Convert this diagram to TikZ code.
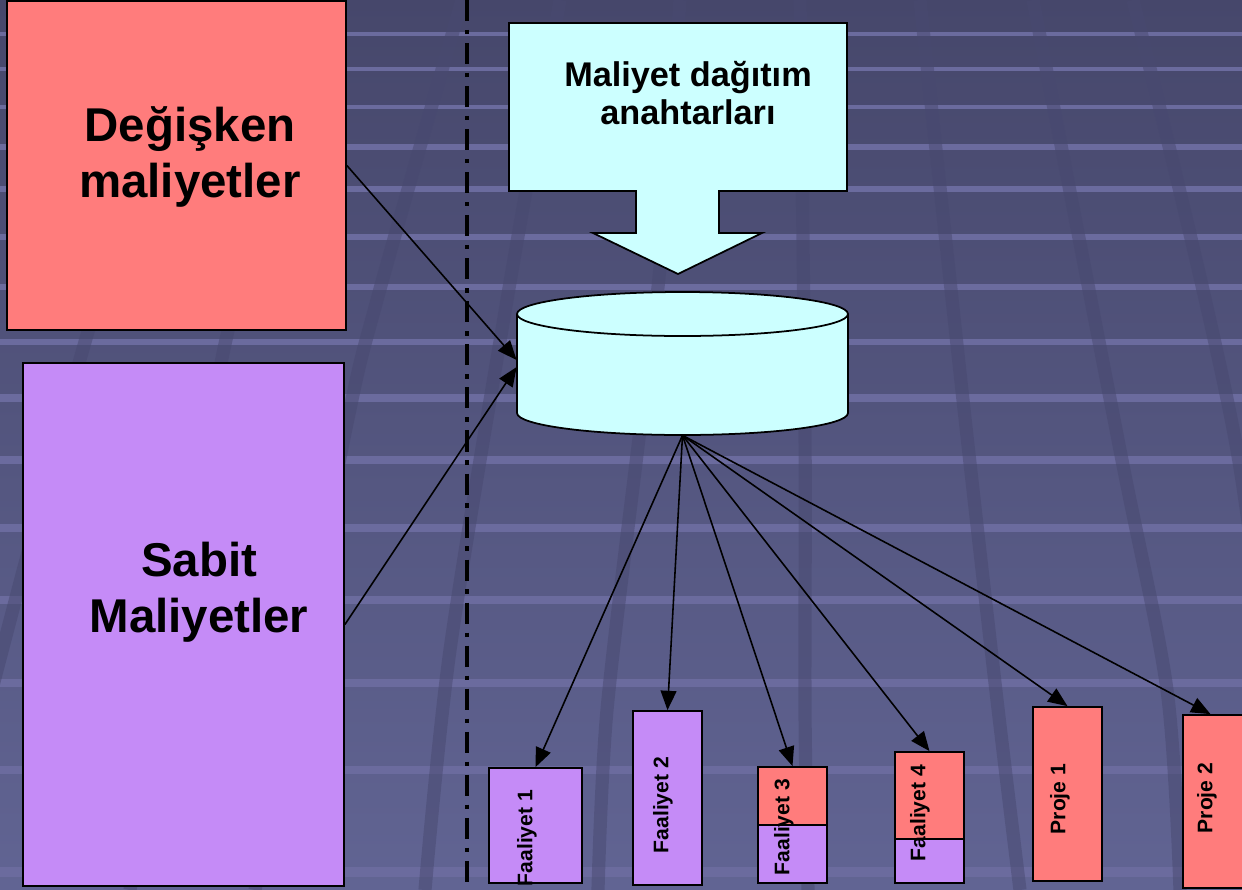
\documentclass[tikz,border=0pt]{standalone}
\usepackage{fontspec}
\setmainfont{Liberation Sans}
\usetikzlibrary{arrows.meta,calc}
\definecolor{bgtop}{HTML}{46476B}
\definecolor{bgbot}{HTML}{616493}
\definecolor{gridl}{HTML}{6B6B9E}
\definecolor{stripec}{HTML}{484970}
\definecolor{redf}{HTML}{FF7C7C}
\definecolor{purf}{HTML}{C58BF7}
\definecolor{cyanf}{HTML}{CCFFFF}
\begin{document}
\begin{tikzpicture}[x=0.02cm,y=-0.02cm,
  box/.style={draw=black, line width=1pt, inner sep=0pt},
  arr/.style={draw=black, line width=0.9pt, -{Triangle[length=11pt,width=9pt]}},
  bigtxt/.style={font=\fontsize{27}{32}\selectfont\bfseries, align=center},
  midtxt/.style={font=\fontsize{19.5}{22}\selectfont\bfseries, align=center},
  smalltxt/.style={font=\fontsize{12}{14}\selectfont\bfseries, rotate=90, inner sep=0pt},
  hline/.style={draw=gridl},
  stripeline/.style={draw=stripec, opacity=0.5, line width=7.5pt}
]
\useasboundingbox (0,0) rectangle (1242,890);
\begin{scope}
\clip (0,0) rectangle (1242,890);
% background
\shade[top color=bgtop, bottom color=bgbot] (0,0) rectangle (1242,890);
\foreach \yy/\ww in {34/2.4, 69/2.6, 107/2.8, 147/3.0, 189/3.2, 237/3.4, 287/3.6, 342/3.8, 398/4.0, 460/4.2, 528/4.4, 600/4.6, 683/4.8, 770/5.0, 872/5.2}
  \draw[hline, line width=\ww pt] (0,\yy) -- (1242,\yy);
\draw[stripeline] plot[smooth] coordinates {(200,0) (87,335) (-60,890)};
\draw[stripeline] plot[smooth] coordinates {(330,0) (227,335) (130,890)};
\draw[stripeline] plot[smooth] coordinates {(462,0) (377,300) (345,433) (255,890)};
\draw[stripeline] plot[smooth] coordinates {(560,0) (507,300) (450,650) (425,890)};
\draw[stripeline] plot[smooth] coordinates {(680,0) (660,267) (640,430) (607,710) (598,890)};
\draw[stripeline] plot[smooth] coordinates {(800,0) (805,430) (805,710) (808,890)};
\draw[stripeline] plot[smooth] coordinates {(920,0) (963,400) (997,700) (1020,890)};
\draw[stripeline] plot[smooth] coordinates {(1033,0) (1120,450) (1167,690) (1180,890)};
\draw[stripeline] plot[smooth] coordinates {(1133,0) (1237,450) (1290,890)};

% separator
\coordinate (sepT) at (467,0);
\coordinate (sepB) at (467,890);
\draw[line width=2pt, dash pattern=on 12pt off 5pt on 2.5pt off 5pt] (sepT) -- (sepB);

% left boxes
\node[box, fill=redf, minimum width={339*0.02cm}, minimum height={329*0.02cm}] (dm) at (176.5,165.5) {};
\node[bigtxt] (dmt) at (190,157) {Değişken\\maliyetler};
\node[box, fill=purf, minimum width={321*0.02cm}, minimum height={523*0.02cm}] (sm) at (183.5,624.5) {};
\node[bigtxt] (smt) at (199,592) {Sabit\\Maliyetler};

% callout
\draw[line width=1pt, fill=cyanf] (509,23) -- (847,23) -- (847,191) -- (719,191) -- (719,233) -- (762,233)
  -- (678,274) -- (593,233) -- (636,233) -- (636,191) -- (509,191) -- cycle;
\node[midtxt] (key) at (688,93) {Maliyet dağıtım\\anahtarları};

% cylinder
\filldraw[line width=1pt, fill=cyanf] (682.5,413) ellipse [x radius=165.5, y radius=22];
\fill[cyanf] (517,314) rectangle (848,413);
\draw[line width=1pt] (517,314) -- (517,413);
\draw[line width=1pt] (848,314) -- (848,413);
\filldraw[line width=1pt, fill=cyanf] (682.5,314) ellipse [x radius=165.5, y radius=22];
\node[inner sep=0pt, minimum width={331*0.02cm}, minimum height={143*0.02cm}] (cyl) at (682.5,363.5) {};

% small boxes
\node[box, fill=purf, minimum width={93*0.02cm}, minimum height={115*0.02cm}] (f1) at (535.5,825.5) {};
\node[box, fill=purf, minimum width={69*0.02cm}, minimum height={174*0.02cm}] (f2) at (667.5,798) {};
\fill[redf] (758,767) rectangle (827,825);
\fill[purf] (758,825) rectangle (827,883);
\draw[line width=1pt] (758,825) -- (827,825);
\node[box, minimum width={69*0.02cm}, minimum height={116*0.02cm}] (f3) at (792.5,825) {};
\fill[redf] (895,752) rectangle (964,839);
\fill[purf] (895,839) rectangle (964,883);
\draw[line width=1pt] (895,839) -- (964,839);
\node[box, minimum width={69*0.02cm}, minimum height={131*0.02cm}] (f4) at (929.5,817.5) {};
\node[box, fill=redf, minimum width={69*0.02cm}, minimum height={174*0.02cm}] (p1) at (1067.5,794) {};
\node[box, fill=redf, minimum width={69*0.02cm}, minimum height={173*0.02cm}] (p2) at (1217.5,801.5) {};

\node[smalltxt] (f1t) at (527,838) {Faaliyet 1};
\node[smalltxt] (f2t) at (663,805) {Faaliyet 2};
\node[smalltxt] (f3t) at (784,827) {Faaliyet 3};
\node[smalltxt] (f4t) at (920,813) {Faaliyet 4};
\node[smalltxt] (p1t) at (1060,799) {Proje 1};
\node[smalltxt] (p2t) at (1207,798) {Proje 2};

% connectors
\draw[arr] (dm.east) -- ([yshift=0.07cm]cyl.west);
\draw[arr] (sm.east) -- ([yshift=-0.07cm]cyl.west);
\foreach \t in {f1,f2,f3,f4,p1}
  \draw[arr] (cyl.south) -- (\t.north);
\draw[arr] (cyl.south) -- ([xshift=-0.14cm]p2.north);
\end{scope}
\end{tikzpicture}
\end{document}
